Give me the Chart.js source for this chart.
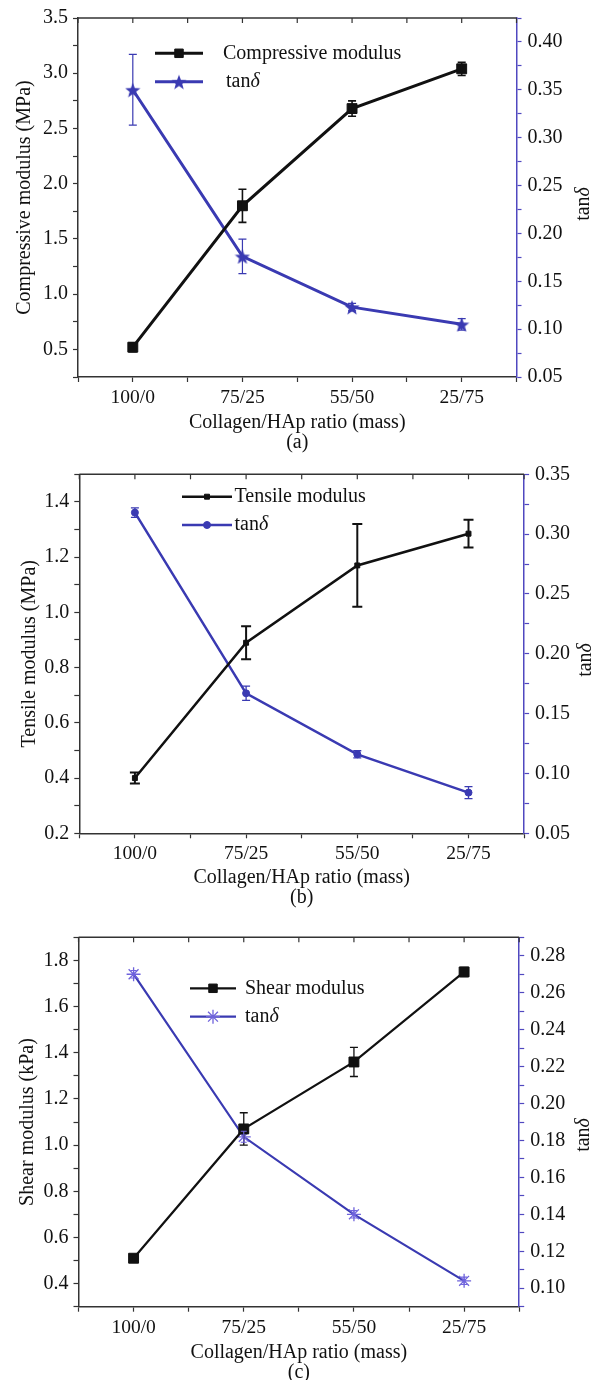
<!DOCTYPE html>
<html>
<head>
<meta charset="utf-8">
<script src="https://cdn.jsdelivr.net/npm/chart.js@4.4.0/dist/chart.umd.min.js"></script>
<style>
  body { margin: 0; background: #fff; width: 601px; height: 1380px; overflow: hidden; position: relative; }
  canvas { position: absolute; left: 0; }
</style>
</head>
<body>
<canvas id="panelA" width="601" height="460" style="top:0px"></canvas>
<canvas id="panelB" width="601" height="460" style="top:450px"></canvas>
<canvas id="panelC" width="601" height="480" style="top:910px"></canvas>
<script>
// Data
const ratios = ['100/0', '75/25', '55/50', '25/75'];

const compressiveModulus = [0.52, 1.80, 2.68, 3.04];
const compressiveErr     = [0.04, 0.15, 0.07, 0.06];
const compressiveTan     = [0.350, 0.176, 0.123, 0.105];
const compressiveTanErr  = [0.037, 0.018, 0.004, 0.006];

const tensileModulus = [0.40, 0.89, 1.17, 1.285];
const tensileErr     = [0.02, 0.06, 0.15, 0.05];
const tensileTan     = [0.318, 0.167, 0.116, 0.084];
const tensileTanErr  = [0.004, 0.006, 0.003, 0.005];

const shearModulus = [0.51, 1.07, 1.36, 1.75];
const shearErr     = [0.012, 0.07, 0.063, 0.02];
const shearTan     = [0.270, 0.182, 0.140, 0.104];
const shearTanErr  = [0.002, 0.003, 0.002, 0.002];

const SERIF = '"Liberation Serif", "Times New Roman", serif';
const BLACK = '#111';
const BLUE = '#3a3ab2';
const AXIS_BLUE = '#5048c0';

function toPoints(values) {
    return values.map((v, i) => ({ x: i, y: v }));
}

function isMultiple(v, m) {
    return Math.abs(v / m - Math.round(v / m)) < 1e-6;
}

// filled five point star used as point style in panel (a)
function makeStar(size, color) {
    let c = document.createElement('canvas');
    c.width = c.height = size;
    let g = c.getContext('2d');
    let r = size / 2, ri = r * 0.42;
    g.beginPath();
    for (let k = 0; k < 10; k++) {
        let ang = -Math.PI / 2 + k * Math.PI / 5;
        let rr = k % 2 ? ri : r;
        g.lineTo(r + rr * Math.cos(ang), r + 1 + rr * Math.sin(ang));
    }
    g.closePath();
    g.fillStyle = color;
    g.fill();
    return c;
}

// "tan" upright followed by italic delta
function drawTanDelta(ctx, x, y, size, align) {
    ctx.font = size + 'px ' + SERIF;
    let w1 = ctx.measureText('tan').width;
    ctx.font = 'italic ' + size + 'px ' + SERIF;
    let w2 = ctx.measureText('δ').width;
    let start = align === 'center' ? x - (w1 + w2) / 2 : x;
    ctx.textAlign = 'left';
    ctx.font = size + 'px ' + SERIF;
    ctx.fillText('tan', start, y);
    ctx.font = 'italic ' + size + 'px ' + SERIF;
    ctx.fillText('δ', start + w1, y);
}

const framePlugin = {
    id: 'frame',
    afterDraw(chart) {
        const { ctx, chartArea: a, scales: { x } } = chart;
        ctx.save();
        ctx.strokeStyle = '#333';
        ctx.lineWidth = 1.5;
        ctx.beginPath();
        ctx.moveTo(a.left, a.top);
        ctx.lineTo(a.right, a.top);
        ctx.stroke();
        ctx.lineWidth = 1.2;
        x.ticks.forEach(t => {
            let px = x.getPixelForValue(t.value);
            ctx.beginPath();
            ctx.moveTo(px, a.top);
            ctx.lineTo(px, a.top + 5);
            ctx.stroke();
        });
        ctx.restore();
    }
};

const errorBarPlugin = {
    id: 'errorBars',
    afterDatasetsDraw(chart) {
        const ctx = chart.ctx;
        chart.data.datasets.forEach((ds, i) => {
            if (!ds.errors) return;
            const meta = chart.getDatasetMeta(i);
            const ys = chart.scales[ds.yAxisID];
            ctx.save();
            ctx.strokeStyle = ds.errorColor || ds.borderColor;
            ctx.lineWidth = ds.errorWidth || 1.2;
            ds.data.forEach((p, j) => {
                let e = ds.errors[j];
                let px = meta.data[j].x;
                let top = ys.getPixelForValue(p.y + e);
                let bot = ys.getPixelForValue(p.y - e);
                let c = ds.capHalf || 4;
                ctx.beginPath();
                ctx.moveTo(px, top); ctx.lineTo(px, bot);
                ctx.moveTo(px - c, top); ctx.lineTo(px + c, top);
                ctx.moveTo(px - c, bot); ctx.lineTo(px + c, bot);
                ctx.stroke();
            });
            ctx.restore();
        });
    }
};

const sideTitlePlugin = {
    id: 'sideTitle',
    afterDraw(chart, args, opts) {
        const ctx = chart.ctx;
        ctx.save();
        ctx.translate(opts.x, opts.y);
        ctx.rotate(-Math.PI / 2);
        ctx.fillStyle = BLACK;
        ctx.textBaseline = 'middle';
        drawTanDelta(ctx, 0, 0, 20, 'center');
        ctx.restore();
    }
};

const insetLegendPlugin = {
    id: 'insetLegend',
    afterDraw(chart, args, opts) {
        const ctx = chart.ctx;
        chart.data.datasets.forEach((ds, i) => {
            let y = opts.y + i * opts.gap;
            ctx.save();
            ctx.strokeStyle = ds.borderColor;
            ctx.lineWidth = ds.borderWidth;
            ctx.beginPath();
            ctx.moveTo(opts.x0, y);
            ctx.lineTo(opts.x1, y);
            ctx.stroke();
            ctx.fillStyle = ds.backgroundColor;
            ctx.strokeStyle = ds.pointBorderColor || ds.borderColor;
            ctx.lineWidth = ds.pointBorderWidth || 1;
            if (Chart.helpers && Chart.helpers.drawPoint) {
                Chart.helpers.drawPoint(ctx, {
                    pointStyle: ds.pointStyle, rotation: 0,
                    radius: ds.legendRadius || ds.pointRadius, borderWidth: ctx.lineWidth
                }, (opts.x0 + opts.x1) / 2, y);
            }
            ctx.fillStyle = BLACK;
            ctx.textBaseline = 'middle';
            if (ds.label === 'tanδ') {
                drawTanDelta(ctx, opts.textX + (opts.tanShift || 0), y, 20, 'left');
            } else {
                ctx.font = '20px ' + SERIF;
                ctx.textAlign = 'left';
                ctx.fillText(ds.label, opts.textX, y);
            }
            ctx.restore();
        });
    }
};

function xAxis(height, padBottom, caption) {
    return {
        type: 'linear', position: 'bottom', min: -0.5, max: 3.5,
        afterFit: s => { s.height = height; },
        border: { color: '#333', width: 1.5 },
        grid: { drawOnChartArea: false, tickLength: 5, tickColor: '#333', tickWidth: 1.2 },
        ticks: {
            stepSize: 0.5, autoSkip: false, maxRotation: 0, padding: 4, color: BLACK,
            font: { family: SERIF, size: 19.5 },
            callback: v => Math.abs(v - Math.round(v)) < 1e-6 ? ratios[Math.round(v)] : ''
        },
        title: {
            display: true, text: ['Collagen/HAp ratio (mass)', caption], color: BLACK,
            font: { family: SERIF, size: 20, lineHeight: 1 }, padding: { top: 0, bottom: padBottom }
        }
    };
}

function yLeft(min, max, step, labelEvery, title, width, titlePad) {
    return {
        type: 'linear', position: 'left', min: min, max: max,
        afterFit: s => { s.width = width; },
        border: { color: '#333', width: 1.5 },
        grid: { drawOnChartArea: false, tickLength: 5, tickColor: '#333', tickWidth: 1.2 },
        ticks: {
            stepSize: step, autoSkip: false, padding: 5, color: BLACK,
            font: { family: SERIF, size: 20 },
            callback: v => isMultiple(v, labelEvery) ? v.toFixed(1) : ''
        },
        title: {
            display: true, text: title, color: BLACK,
            font: { family: SERIF, size: 20, lineHeight: 1.2 }, padding: { top: titlePad, bottom: 0 }
        }
    };
}

function yRight(min, max, step, labelEvery, width) {
    return {
        type: 'linear', position: 'right', min: min, max: max,
        afterFit: s => { s.width = width; },
        border: { color: AXIS_BLUE, width: 1.5 },
        grid: { drawOnChartArea: false, tickLength: 5, tickColor: AXIS_BLUE, tickWidth: 1.2 },
        ticks: {
            stepSize: step, autoSkip: false, padding: 6, color: BLACK,
            font: { family: SERIF, size: 20 },
            callback: v => isMultiple(v, labelEvery) ? v.toFixed(2) : ''
        },
        title: { display: false }
    };
}

function makePanel(id, padTop, datasets, scales, legendOpts, sideOpts) {
    return new Chart(document.getElementById(id), {
        type: 'line',
        data: { datasets: datasets },
        options: {
            responsive: false,
            animation: false,
            events: [],
            layout: { padding: { top: padTop, left: 0, right: 0, bottom: 0 } },
            scales: scales,
            plugins: {
                legend: { display: false },
                tooltip: { enabled: false },
                insetLegend: legendOpts,
                sideTitle: sideOpts
            }
        },
        plugins: [errorBarPlugin, framePlugin, insetLegendPlugin, sideTitlePlugin]
    });
}

const starImg = makeStar(16, BLUE);

// (a) compressive
makePanel('panelA', 15, [
    {
        label: 'Compressive modulus', data: toPoints(compressiveModulus), errors: compressiveErr,
        yAxisID: 'y', borderColor: BLACK, backgroundColor: BLACK, borderWidth: 3,
        pointStyle: 'rect', pointRadius: 7, legendRadius: 6, pointBorderWidth: 1,
        errorWidth: 1.6, capHalf: 4
    },
    {
        label: 'tanδ', data: toPoints(compressiveTan), errors: compressiveTanErr,
        yAxisID: 'y1', borderColor: BLUE, backgroundColor: BLUE, borderWidth: 3,
        pointStyle: starImg, pointRadius: 8, errorWidth: 1.2, capHalf: 4
    }
], {
    x: xAxis(83, 7, '(a)'),
    y: yLeft(0.25, 3.5, 0.25, 0.5, 'Compressive modulus (MPa)', 78, 13),
    y1: yRight(0.05, 0.425, 0.025, 0.05, 84.5)
}, { x0: 155, x1: 203, textX: 223, tanShift: 3, y: 53.3, gap: 28.4 }, { x: 584, y: 204 });

// (b) tensile
makePanel('panelB', 24.3, [
    {
        label: 'Tensile modulus', data: toPoints(tensileModulus), errors: tensileErr,
        yAxisID: 'y', borderColor: BLACK, backgroundColor: BLACK, borderWidth: 2.5,
        pointStyle: 'rect', pointRadius: 3.5, pointBorderWidth: 1,
        errorWidth: 2, capHalf: 5
    },
    {
        label: 'tanδ', data: toPoints(tensileTan), errors: tensileTanErr,
        yAxisID: 'y1', borderColor: BLUE, backgroundColor: BLUE, borderWidth: 2.5,
        pointStyle: 'circle', pointRadius: 3.5, pointBorderWidth: 1,
        errorWidth: 1.3, capHalf: 4
    }
], {
    x: xAxis(76.7, 2, '(b)'),
    y: yLeft(0.2, 1.5, 0.1, 0.2, 'Tensile modulus (MPa)', 79.3, 17.5),
    y1: yRight(0.05, 0.35, 0.025, 0.05, 76.9)
}, { x0: 182, x1: 232, textX: 234.5, y: 46.7, gap: 28.3 }, { x: 586, y: 210 });

// (c) shear
makePanel('panelC', 27.3, [
    {
        label: 'Shear modulus', data: toPoints(shearModulus), errors: shearErr,
        yAxisID: 'y', borderColor: BLACK, backgroundColor: BLACK, borderWidth: 2.2,
        pointStyle: 'rect', pointRadius: 7, legendRadius: 6, pointBorderWidth: 1,
        errorWidth: 1.3, capHalf: 4
    },
    {
        label: 'tanδ', data: toPoints(shearTan), errors: shearTanErr,
        yAxisID: 'y1', borderColor: BLUE, backgroundColor: BLUE, borderWidth: 2.2,
        pointStyle: 'star', pointRadius: 7, pointBorderWidth: 1.3, pointBorderColor: '#6f63dc',
        errorWidth: 1.1, errorColor: '#6f63dc', capHalf: 3
    }
], {
    x: xAxis(83.3, 7, '(c)'),
    y: yLeft(0.3, 1.9, 0.1, 0.2, 'Shear modulus (kPa)', 78.5, 15.6),
    y1: yRight(0.09, 0.29, 0.01, 0.02, 81.8)
}, { x0: 190, x1: 236, textX: 245, y: 78.3, gap: 28.4 }, { x: 584, y: 225 });
</script>
</body>
</html>
